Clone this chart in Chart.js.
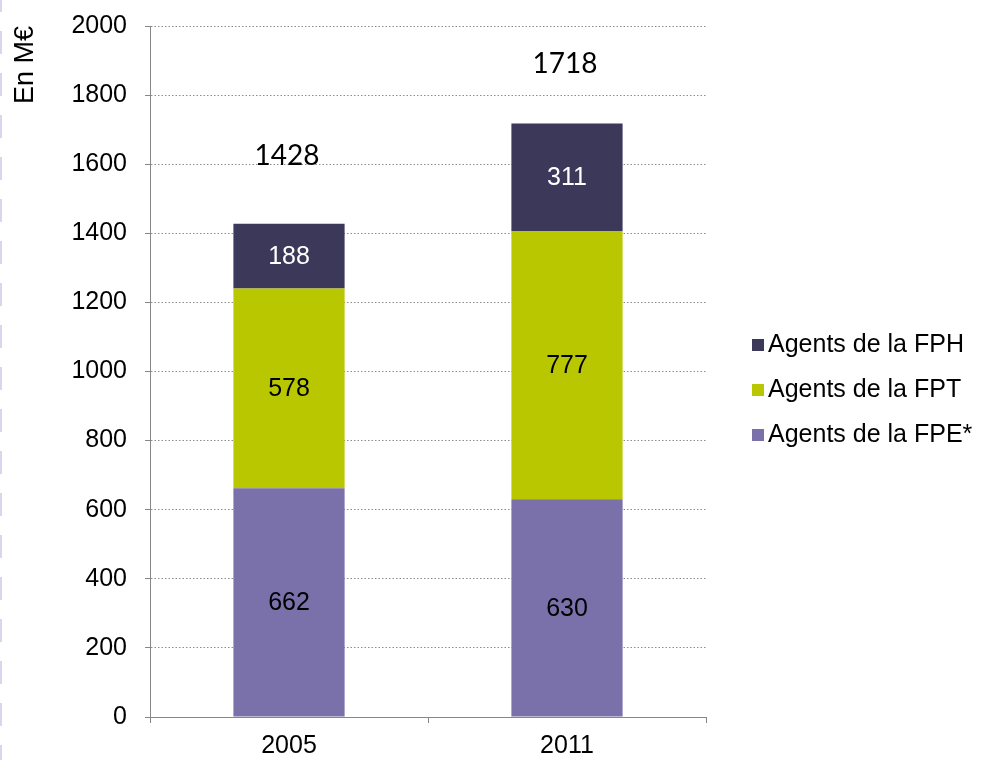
<!DOCTYPE html>
<html>
<head>
<meta charset="utf-8">
<script src="https://cdn.jsdelivr.net/npm/chart.js@4"></script>
<style>
  html, body { margin: 0; padding: 0; background: #fff; }
  #wrap { position: relative; width: 988px; height: 760px; }
  #legend { position: absolute; left: 752px; top: 321px; margin: 0; padding: 0; list-style: none;
            font: 25px "Liberation Sans", Arial, sans-serif; color: #000; }
  #legend li { height: 45px; line-height: 45px; white-space: nowrap; }
  #legend span { display: inline-block; width: 12px; height: 12px; margin-right: 4px; vertical-align: middle; }
</style>
</head>
<body>
<div id="wrap">
  <canvas id="chart" width="988" height="760"></canvas>
  <ul id="legend"></ul>
</div>
<script>
// data
const years = ['2005', '2011'];
const fpe = [662, 630];
const fpt = [578, 777];
const fph = [188, 311];
const totals = [1428, 1718];
const yMax = 2000;
const yStep = 200;

const FONT = '"Liberation Sans", Arial, sans-serif';

// faint dashed line on the left edge
const edgeLine = {
    id: 'edgeLine',
    beforeDraw(chart) {
        const ctx = chart.ctx;
        ctx.save();
        ctx.strokeStyle = '#d8d5ec';
        ctx.lineWidth = 2;
        ctx.setLineDash([23, 19]);
        ctx.lineDashOffset = 11;
        ctx.beginPath();
        ctx.moveTo(1, 0);
        ctx.lineTo(1, chart.height);
        ctx.stroke();
        ctx.restore();
    }
};

// values inside the bars + totals above
const barLabels = {
    id: 'barLabels',
    afterDatasetsDraw(chart) {
        const ctx = chart.ctx;
        ctx.save();
        ctx.textAlign = 'center';
        ctx.textBaseline = 'middle';
        ctx.font = '25px ' + FONT;
        chart.data.datasets.forEach((ds, di) => {
            chart.getDatasetMeta(di).data.forEach((bar, i) => {
                const p = bar.getCenterPoint();
                ctx.fillStyle = ds.labelColor;
                ctx.fillText(ds.data[i], p.x, p.y + 1);
            });
        });
        const offsets = [68, 59];
        ctx.font = '28px Lato, "Open Sans", sans-serif';
        ctx.fillStyle = '#000';
        chart.getDatasetMeta(2).data.forEach((bar, i) => {
            ctx.fillText(totals[i], bar.x - 2, bar.y - offsets[i]);
        });
        ctx.restore();
    }
};

const chart = new Chart(document.getElementById('chart'), {
    type: 'bar',
    data: {
        labels: years,
        datasets: [
            { label: 'Agents de la FPE*', data: fpe, backgroundColor: '#7a71ab', labelColor: '#000' },
            { label: 'Agents de la FPT', data: fpt, backgroundColor: '#b9c700', labelColor: '#000' },
            { label: 'Agents de la FPH', data: fph, backgroundColor: '#3c3859', labelColor: '#fff' }
        ]
    },
    options: {
        responsive: false,
        animation: false,
        barPercentage: 0.8,
        categoryPercentage: 0.5,
        layout: { padding: { top: 26, right: 282, bottom: 0, left: 0 } },
        plugins: {
            legend: { display: false },
            tooltip: { enabled: false }
        },
        scales: {
            x: {
                stacked: true,
                grid: { offset: true, drawOnChartArea: false, tickLength: 6, color: '#868686', tickColor: '#868686' },
                border: { color: '#868686', width: 1 },
                ticks: { color: '#000', font: { family: FONT, size: 25 }, padding: 8 },
                afterFit: s => { s.height = 43; }
            },
            y: {
                stacked: true,
                min: 0,
                max: yMax,
                ticks: {
                    stepSize: yStep, color: '#000', font: { family: FONT, size: 25 }, padding: 18,
                    callback: v => String(v)
                },
                grid: { color: '#8c8c8c', tickColor: '#868686', tickLength: 5, tickBorderDash: [] },
                border: { color: '#868686', width: 1, dash: [1.5, 2] },
                title: {
                    display: true, text: 'En M€', align: 'end', color: '#000',
                    font: { family: FONT, size: 27 }, padding: { top: 9, bottom: 0 }
                },
                afterFit: s => { s.width = 150; s.paddingTop = 0; s.paddingBottom = 0; }
            }
        }
    },
    plugins: [edgeLine, barLabels]
});

// HTML legend, top to bottom like the stack
const legendEl = document.getElementById('legend');
chart.data.datasets.slice().reverse().forEach(ds => {
    const li = document.createElement('li');
    const box = document.createElement('span');
    box.style.background = ds.backgroundColor;
    li.appendChild(box);
    li.appendChild(document.createTextNode(ds.label));
    legendEl.appendChild(li);
});
</script>
</body>
</html>
